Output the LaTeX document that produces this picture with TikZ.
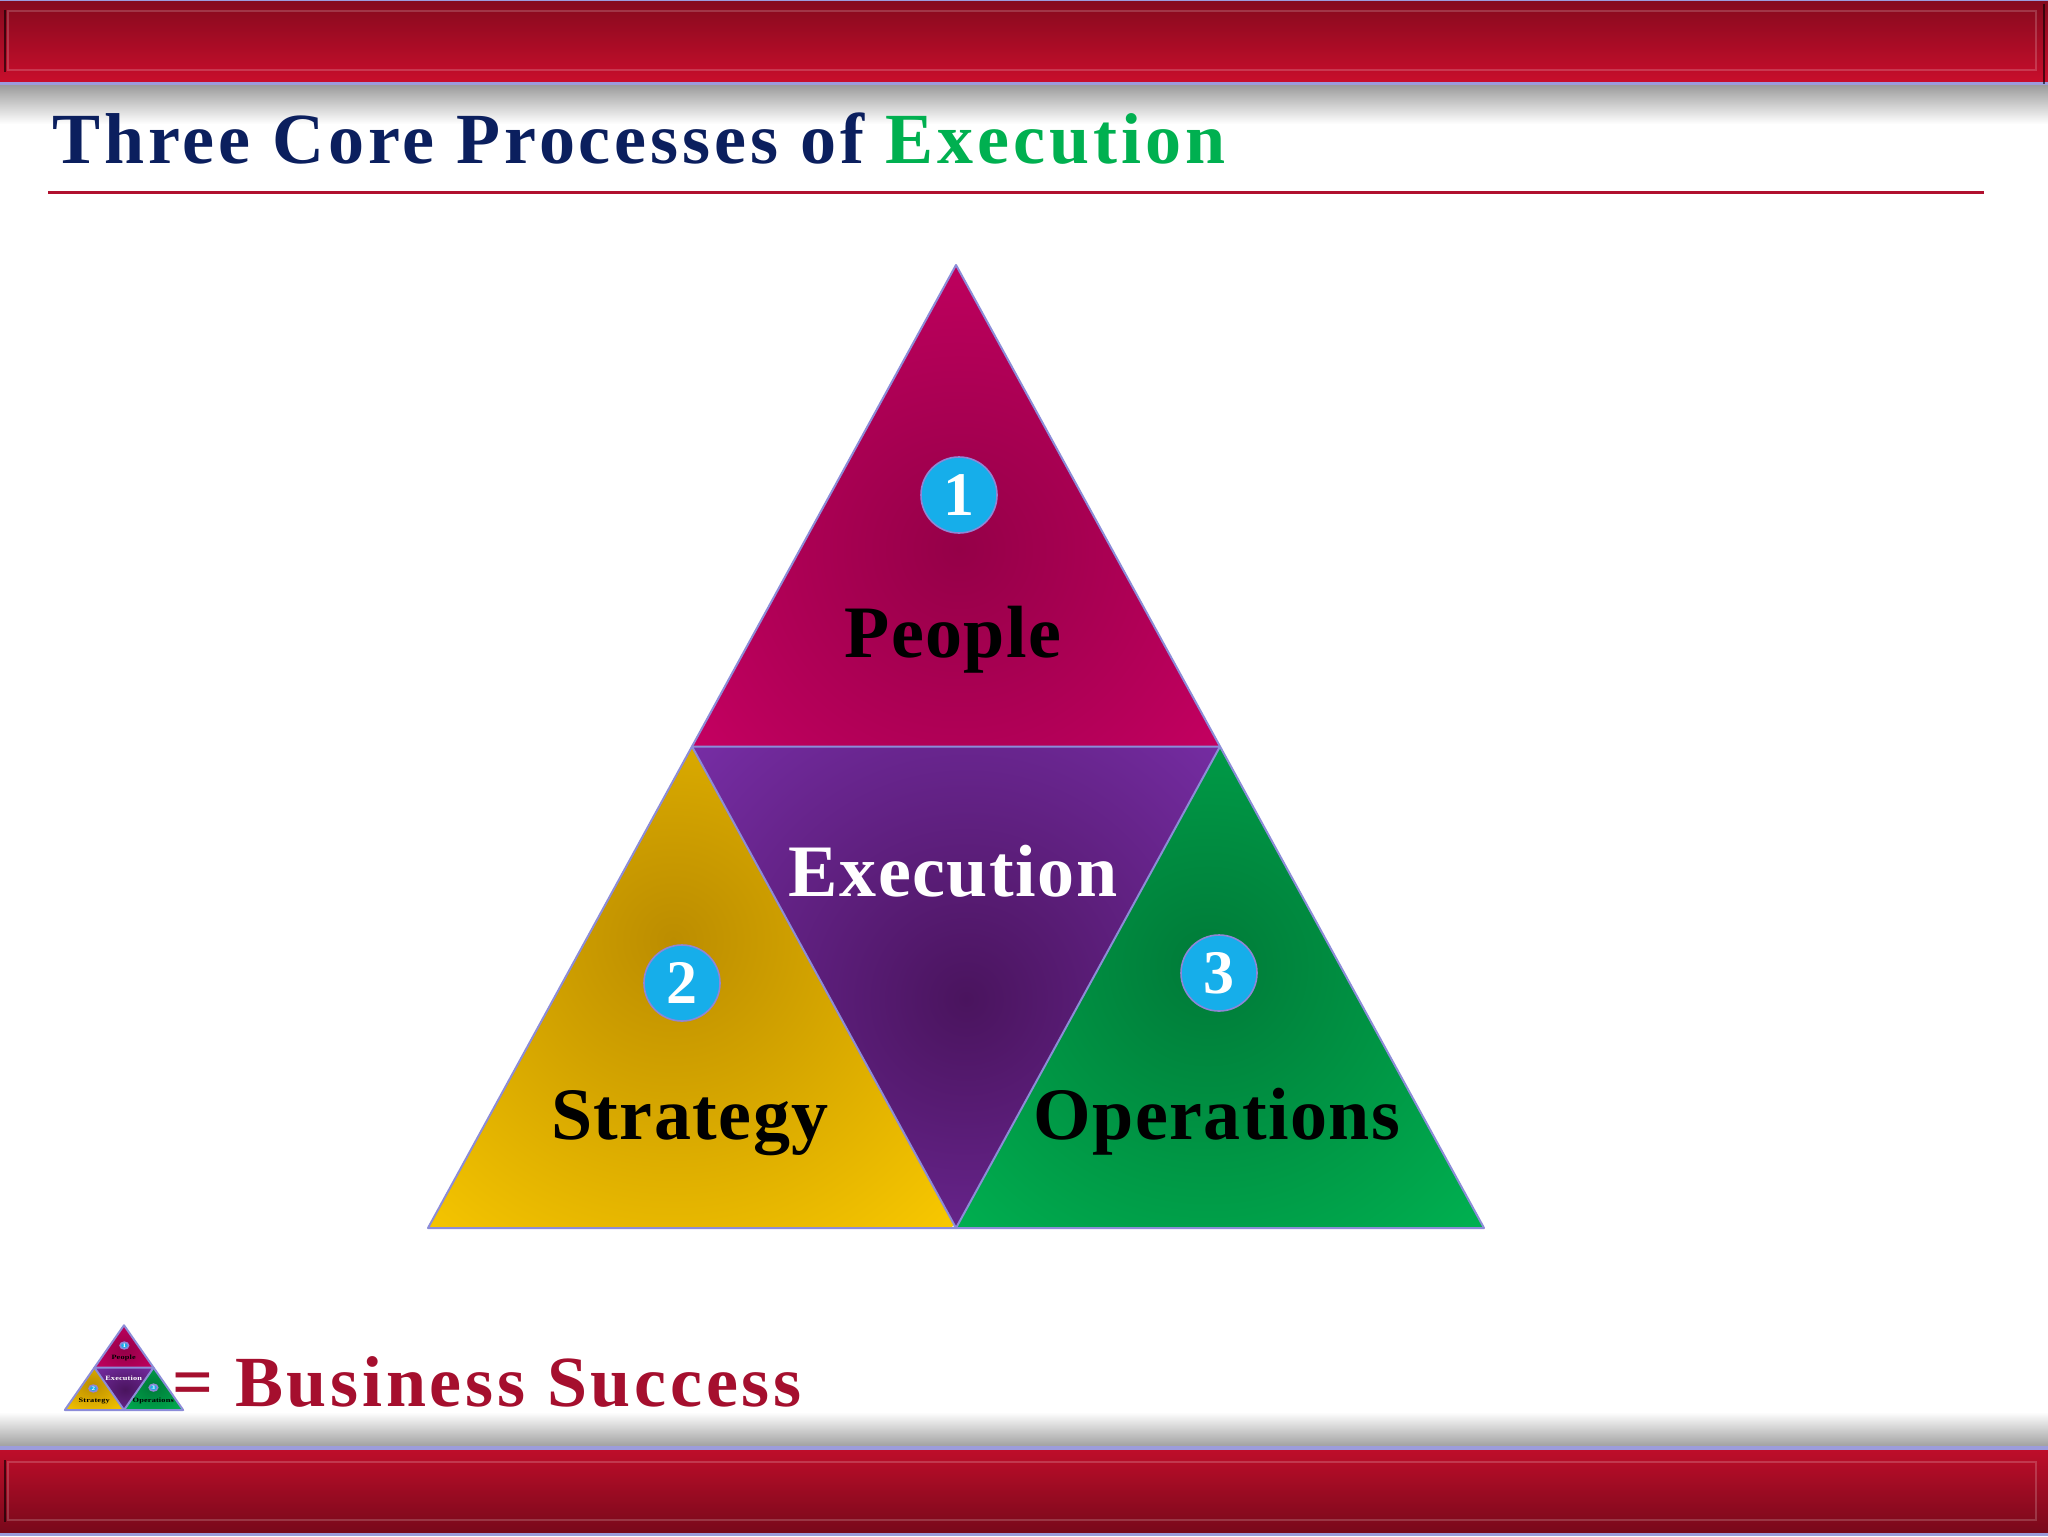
\documentclass[tikz,border=0pt]{standalone}
\usepackage{fontspec}
\setmainfont{Liberation Serif}
\newfontfamily\titlefont{Liberation Serif}[LetterSpace=5.4]
\newfontfamily\bizfont{Liberation Serif}[LetterSpace=5.2]
\newfontfamily\lblfont{Liberation Serif}[LetterSpace=2]
\definecolor{barlav}{HTML}{9C9CDC}
\definecolor{bartop}{HTML}{860A1E}
\definecolor{barbot}{HTML}{C80E2C}
\definecolor{titleblue}{HTML}{0B1F5E}
\definecolor{titlegreen}{HTML}{00B050}
\definecolor{ulred}{HTML}{B0102E}
\definecolor{bizred}{HTML}{A50F2E}
\definecolor{triedge}{HTML}{8C8CD8}
\definecolor{numblue}{HTML}{16AEEA}
\definecolor{numedge}{HTML}{8F86D6}
\definecolor{pplin}{HTML}{950048}
\definecolor{pplout}{HTML}{CE0066}
\definecolor{exein}{HTML}{4A145E}
\definecolor{exeout}{HTML}{7A2FAA}
\definecolor{strin}{HTML}{BC8D00}
\definecolor{strout}{HTML}{F8C800}
\definecolor{opsin}{HTML}{007A38}
\definecolor{opsout}{HTML}{00B452}
\tikzset{
  tri/.style={draw=triedge, line width=1pt, line join=round},
  lbl/.style={font=\lblfont\bfseries\fontsize{37}{40}\selectfont, anchor=base, inner sep=0},
  numc/.style={circle, fill=numblue, draw=numedge, line width=0.8pt, minimum size=38pt, inner sep=0, text=white, font=\fontsize{31}{31}\selectfont\bfseries},
  pyramid/.pic={
    \coordinate (-A) at (0,-963);
    \coordinate (-L) at (-528,0);
    \coordinate (-R) at (528,0);
    \coordinate (-ML) at (-264,-481.5);
    \coordinate (-MR) at (264,-481.5);
    \coordinate (-B) at (0,0);
    \begin{scope}[shift={(6,8)}]
      \fill[black, opacity=0.10] (-A) -- (-L) -- (-R) -- cycle;
    \end{scope}
    \begin{scope}
      \clip (-A) -- (-ML) -- (-MR) -- cycle;
      \shade[inner color=pplin, outer color=pplout] (3,-679) circle (200pt);
    \end{scope}
    \begin{scope}
      \clip (-ML) -- (-MR) -- (-B) -- cycle;
      \shade[inner color=exein, outer color=exeout] (10,-229) circle (200pt);
    \end{scope}
    \begin{scope}
      \clip (-ML) -- (-L) -- (-B) -- cycle;
      \shade[inner color=strin, outer color=strout] (-283,-288) circle (200pt);
    \end{scope}
    \begin{scope}
      \clip (-MR) -- (-B) -- (-R) -- cycle;
      \shade[inner color=opsin, outer color=opsout] (252,-262) circle (200pt);
    \end{scope}
    \draw[tri] (-A) -- (-L) -- (-R) -- cycle;
    \draw[tri] (-ML) -- (-MR) -- (-B) -- cycle;
    \node[numc] (-n1) at (3,-733) {1};
    \node[lbl] (-people) at (-3,-571) {People};
    \node[lbl, text=white] (-exec) at (-3,-332) {Execution};
    \node[numc] (-n2) at (-274,-245) {2};
    \node[lbl] (-strat) at (-266,-89) {Strategy};
    \node[numc] (-n3) at (263,-255) {3};
    \node[lbl] (-ops) at (261,-89) {Operations};
  }
}
\begin{document}
\begin{tikzpicture}[x=0.5pt,y=-0.5pt]
\useasboundingbox (0,0) rectangle (2048,1536);
\fill[white] (0,0) rectangle (2048,1536);
% top bar
\fill[barlav] (0,0) rectangle (2048,86);
\shade[top color=bartop, bottom color=barbot] (0,2) rectangle (2048,82);
\draw[white, opacity=0.18, line width=1pt] (8,11) rectangle (2036,70);
\draw[black, opacity=0.6, line width=1.2pt] (5,10) -- (5,72);
\draw[black, opacity=0.6, line width=1.2pt] (2044,4) -- (2044,84);
\shade[top color=black!38, bottom color=white] (0,86) rectangle (2048,124);
% bottom bar
\shade[top color=white, bottom color=black!38] (0,1412) rectangle (2048,1447);
\fill[barlav] (0,1446) rectangle (2048,1536);
\shade[top color=barbot!95!black, bottom color=bartop!90!black] (0,1450) rectangle (2048,1532);
\draw[white, opacity=0.18, line width=1pt] (8,1462) rectangle (2036,1520);
\draw[black, opacity=0.6, line width=1.2pt] (5,1460) -- (5,1522);
% title
\node[anchor=base west, inner sep=0, font=\titlefont\bfseries\fontsize{36}{40}\selectfont] (title) at (52,163)
  {\textcolor{titleblue}{Three Core Processes of }\textcolor{titlegreen}{Execution}};
\coordinate (ul1) at (48,192);
\coordinate (ul2) at (1984,192);
\draw[ulred, line width=1.5pt] (ul1) -- (ul2);
% main pyramid
\pic (big) at (956,1228) {pyramid};
% icon
\pic[xscale=0.112, yscale=0.088, transform shape] (small) at (124,1410) {pyramid};
% caption
\node[anchor=base west, inner sep=0, text=bizred, font=\bizfont\bfseries\fontsize{36}{40}\selectfont] (biz) at (172,1406) {= Business Success};
\end{tikzpicture}
\end{document}
